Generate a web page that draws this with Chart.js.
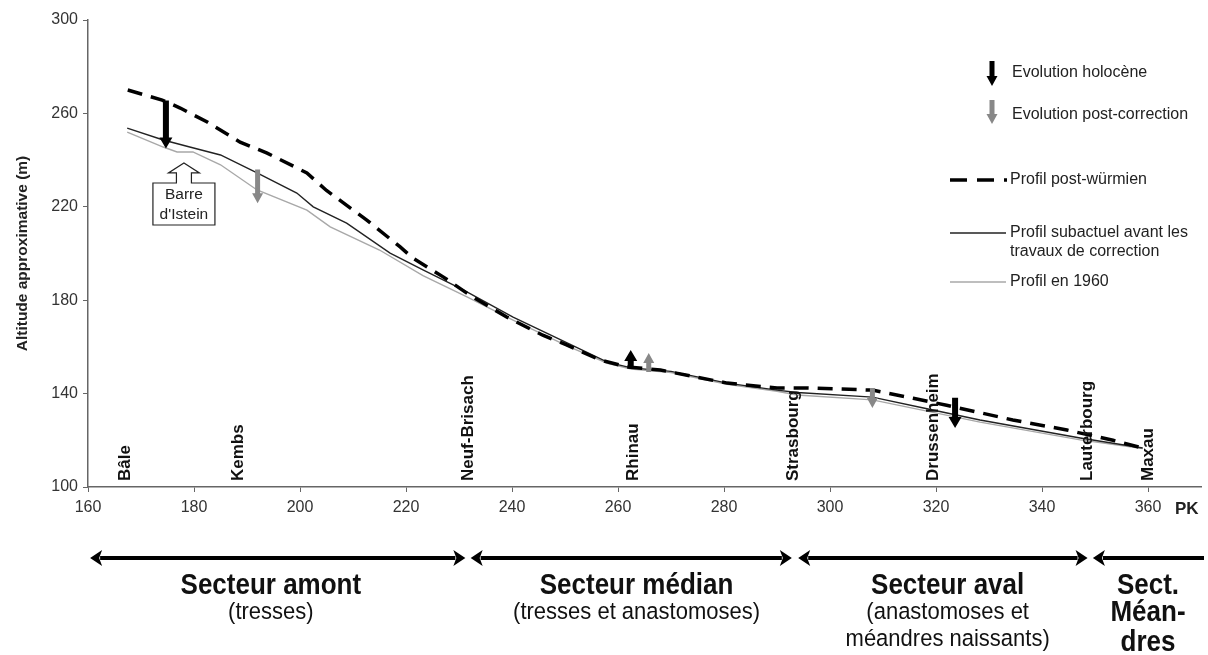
<!DOCTYPE html>
<html>
<head>
<meta charset="utf-8">
<script src="https://cdn.jsdelivr.net/npm/chart.js@4"></script>
<style>
html,body{margin:0;padding:0;background:#fff;}
#c{display:block;}
</style>
</head>
<body>
<canvas id="c" width="1208" height="655"></canvas>
<script>
// ---------- DATA ----------
const wurmKm  = [167.5,174,177.4,182.5,188.7,193.8,201.3,205,212.6,218.9,221.3,227,232,239,245.8,250.4,256.6,261.7,268,280.6,290,295.7,308,315.7,322,334.5,344.7,353.4,359];
const wurmAlt = [270,265.7,262.3,256.3,247.7,243,234.5,227,214.3,202.8,198,190,182.2,172.8,165,160.8,154.4,151.4,150.1,144.5,142.4,142.4,141.5,138,135,128.7,124.4,120,116.7];

const subKm   = [167.4,174.2,179.2,185,191.9,199.4,202.5,208.8,217,223.2,230.8,240.2,250.4,258,262.5,270,280.6,290,293.8,308,318.3,328.3,347.2,359];
const subAlt  = [253.7,248.6,245.6,242.2,234.5,225.9,220,213,200.2,193,184.4,172.8,161.7,153.5,151,149.5,144.5,141.5,140.5,138.5,133.5,128.7,121,116.7];

const p1960Km  = [167.4,174.2,176.8,179.8,185,191.9,201.3,205.7,215,223.2,231.5,240.2,250.4,258,262.5,270,280.6,290,293.8,308,318.3,328.3,347.2,359];
const p1960Alt = [252,245.6,243.5,243.5,238,227.2,218.6,211.4,201.5,190.5,181.4,171.5,160.4,153,150.5,149,144,141,139.4,137.3,132.5,127.8,120.2,116.5];

// Evolution arrows: km, altitude at tail, altitude at tip
const holoKm   = [174.7, 262.4, 323.6];
const holoFrom = [265.5, 151.0, 138.2];
const holoTo   = [245.0, 158.7, 125.3];
const postKm   = [192.0, 265.8, 308.0];
const postFrom = [236.0, 149.2, 142.4];
const postTo   = [221.5, 157.4, 133.8];

const cities   = ['Bâle','Kembs','Neuf-Brisach','Rhinau','Strasbourg','Drussenheim','Lauterbourg','Maxau'];
const cityKm   = [167, 188.3, 231.7, 262.8, 293, 319.4, 348.5, 360];

const yTicks = [100,140,180,220,260,300];
const xTicks = [160,180,200,220,240,260,280,300,320,340,360];

const sectionStart = [160.4, 232.2, 294.0, 349.6];
const sectionEnd   = [231.2, 292.8, 348.6, 371];
const sectionTitle = [['Secteur amont'],['Secteur médian'],['Secteur aval'],['Sect.','Méan-','dres']];
const sectionSub   = [['(tresses)'],['(tresses et anastomoses)'],['(anastomoses et','méandres naissants)'],[]];
const sectionLabelKm = [194.5, 263.5, 322.2, 360.0];

const barreKm = 178.1, barreTip = 238.8, barreBoxTop = 230.2, barreBoxBottom = 212.2;

// ---------- HELPERS ----------
const FONT = "'Liberation Sans', Arial, Helvetica, sans-serif";
function pts(xs, ys){ return xs.map((x,i)=>({x:x, y:ys[i]})); }

function arrow(ctx, x, y0, y1, color, shaftW, headW, headL){
  const dir = y1 > y0 ? 1 : -1;
  const yb = y1 - dir*headL;
  ctx.save();
  ctx.fillStyle = color;
  ctx.beginPath();
  ctx.moveTo(x - shaftW/2, y0);
  ctx.lineTo(x + shaftW/2, y0);
  ctx.lineTo(x + shaftW/2, yb);
  ctx.lineTo(x + headW/2, yb);
  ctx.lineTo(x, y1);
  ctx.lineTo(x - headW/2, yb);
  ctx.lineTo(x - shaftW/2, yb);
  ctx.closePath();
  ctx.fill();
  ctx.restore();
}

function hArrow(ctx, x0, x1, y, leftHead, rightHead){
  ctx.save();
  ctx.strokeStyle = '#000'; ctx.fillStyle = '#000';
  ctx.lineWidth = 4;
  const hl = 12, hw = 8;
  ctx.beginPath();
  ctx.moveTo(leftHead ? x0 + hl - 2 : x0, y);
  ctx.lineTo(rightHead ? x1 - hl + 2 : x1, y);
  ctx.stroke();
  if (leftHead){
    ctx.beginPath(); ctx.moveTo(x0, y); ctx.lineTo(x0+hl, y-hw); ctx.lineTo(x0+hl-3, y); ctx.lineTo(x0+hl, y+hw); ctx.closePath(); ctx.fill();
  }
  if (rightHead){
    ctx.beginPath(); ctx.moveTo(x1, y); ctx.lineTo(x1-hl, y-hw); ctx.lineTo(x1-hl+3, y); ctx.lineTo(x1-hl, y+hw); ctx.closePath(); ctx.fill();
  }
  ctx.restore();
}

function tallText(ctx, t, x, y, sy){
  ctx.save();
  ctx.translate(x, y);
  ctx.scale(1, sy);
  ctx.fillText(t, 0, 0);
  ctx.restore();
}

const overlay = {
  id: 'overlay',
  beforeDraw(chart){
    const ctx = chart.ctx;
    ctx.save(); ctx.fillStyle = '#fff'; ctx.fillRect(0,0,chart.width,chart.height); ctx.restore();
  },
  afterDatasetsDraw(chart){
    const ctx = chart.ctx;
    const xs = chart.scales.x, ys = chart.scales.y;
    const X = v => xs.getPixelForValue(v), Y = v => ys.getPixelForValue(v);

    // city labels
    ctx.save();
    ctx.fillStyle = '#111';
    ctx.font = "bold 17px " + FONT;
    ctx.textAlign = 'left'; ctx.textBaseline = 'middle';
    cities.forEach((c,i)=>{
      ctx.save();
      ctx.translate(X(cityKm[i]), Y(100) - 6);
      ctx.rotate(-Math.PI/2);
      ctx.fillText(c, 0, 0);
      ctx.restore();
    });
    ctx.restore();

    // evolution arrows
    holoKm.forEach((k,i)=> arrow(ctx, X(k), Y(holoFrom[i]), Y(holoTo[i]), '#000', 6, 13, 11));
    postKm.forEach((k,i)=> arrow(ctx, X(k), Y(postFrom[i]), Y(postTo[i]), '#888', 5, 11, 10));

    // Barre d'Istein callout
    const bx = X(barreKm), tip = Y(barreTip), bt = Y(barreBoxTop), bb = Y(barreBoxBottom);
    ctx.save();
    ctx.strokeStyle = '#222'; ctx.lineWidth = 1.2; ctx.fillStyle = '#fff';
    ctx.beginPath();
    ctx.moveTo(bx - 31, bt);
    ctx.lineTo(bx - 7.5, bt);
    ctx.lineTo(bx - 7.5, tip + 10);
    ctx.lineTo(bx - 15.5, tip + 10);
    ctx.lineTo(bx, tip);
    ctx.lineTo(bx + 15.5, tip + 10);
    ctx.lineTo(bx + 7.5, tip + 10);
    ctx.lineTo(bx + 7.5, bt);
    ctx.lineTo(bx + 31, bt);
    ctx.lineTo(bx + 31, bb);
    ctx.lineTo(bx - 31, bb);
    ctx.closePath();
    ctx.fill(); ctx.stroke();
    ctx.fillStyle = '#222';
    ctx.font = "15.5px " + FONT;
    ctx.textAlign = 'center'; ctx.textBaseline = 'middle';
    ctx.fillText('Barre', bx, bt + 12);
    ctx.fillText("d'Istein", bx, bt + 32);
    ctx.restore();

    // PK label
    ctx.save();
    ctx.fillStyle = '#222';
    ctx.font = "bold 17px " + FONT;
    ctx.textAlign = 'center'; ctx.textBaseline = 'middle';
    ctx.fillText('PK', X(367.3), Y(100) + 22);
    ctx.restore();

    // legend
    ctx.save();
    ctx.font = "16px " + FONT;
    ctx.fillStyle = '#222';
    ctx.textAlign = 'left'; ctx.textBaseline = 'middle';
    arrow(ctx, 992, 61, 86, '#000', 5, 11, 10);
    ctx.fillText('Evolution holocène', 1012, 73);
    arrow(ctx, 992, 100, 124, '#888', 5, 11, 10);
    ctx.fillText('Evolution post-correction', 1012, 115);
    ctx.strokeStyle = '#000'; ctx.lineWidth = 3.5; ctx.setLineDash([17,10]);
    ctx.beginPath(); ctx.moveTo(950,180); ctx.lineTo(1007,180); ctx.stroke();
    ctx.setLineDash([]);
    ctx.fillText('Profil post-würmien', 1010, 180);
    ctx.strokeStyle = '#222'; ctx.lineWidth = 1.5;
    ctx.beginPath(); ctx.moveTo(950,233); ctx.lineTo(1006,233); ctx.stroke();
    ctx.fillText('Profil subactuel avant les', 1010, 233);
    ctx.fillText('travaux de correction', 1010, 252);
    ctx.strokeStyle = '#a8a8a8'; ctx.lineWidth = 1.5;
    ctx.beginPath(); ctx.moveTo(950,282); ctx.lineTo(1006,282); ctx.stroke();
    ctx.fillText('Profil en 1960', 1010, 282);
    ctx.restore();

    // bottom sectors
    ctx.save();
    sectionStart.forEach((s,i)=>{
      const last = i === sectionStart.length - 1;
      hArrow(ctx, X(s), Math.min(X(sectionEnd[i]), chart.width - 4), 558, true, !last);
      const cx = X(sectionLabelKm[i]);
      ctx.fillStyle = '#111';
      ctx.textAlign = 'center'; ctx.textBaseline = 'middle';
      ctx.font = "bold 26px " + FONT;
      sectionTitle[i].forEach((t,j)=>{
        const yy = last ? [586,613,643][j] : 586;
        tallText(ctx, t, cx, yy, 1.1);
      });
      ctx.font = "22px " + FONT;
      sectionSub[i].forEach((t,j)=>{
        tallText(ctx, t, cx, 612 + j*27, 1.08);
      });
    });
    ctx.restore();
  }
};

new Chart(document.getElementById('c'), {
  type: 'line',
  data: {
    datasets: [
      { label: 'Profil post-würmien', data: pts(wurmKm, wurmAlt), borderColor: '#000', borderWidth: 3.5, borderDash: [15,9], pointRadius: 0, tension: 0, fill: false },
      { label: 'Profil subactuel avant les travaux de correction', data: pts(subKm, subAlt), borderColor: '#222', borderWidth: 1.4, pointRadius: 0, tension: 0, fill: false },
      { label: 'Profil en 1960', data: pts(p1960Km, p1960Alt), borderColor: '#a8a8a8', borderWidth: 1.4, pointRadius: 0, tension: 0, fill: false }
    ]
  },
  options: {
    responsive: false,
    animation: false,
    devicePixelRatio: 1,
    layout: { padding: { top: 20, right: 7, left: 0, bottom: 0 } },
    plugins: { legend: { display: false }, tooltip: { enabled: false } },
    scales: {
      x: {
        type: 'linear', min: 160, max: 370,
        afterFit(s){ s.height = 168; },
        afterBuildTicks(s){ s.ticks = xTicks.map(v=>({value:v})); },
        border: { color: '#666', width: 1.5 },
        grid: { drawOnChartArea: false, drawTicks: true, tickLength: 5, color: '#666' },
        ticks: { color: '#333', font: { family: FONT, size: 16 }, padding: 6, maxRotation: 0, autoSkip: false }
      },
      y: {
        type: 'linear', min: 100, max: 300,
        afterFit(s){ s.width = 88; },
        afterBuildTicks(s){ s.ticks = yTicks.map(v=>({value:v})); },
        border: { color: '#666', width: 1.5 },
        grid: { drawOnChartArea: false, drawTicks: true, tickLength: 5, color: '#666' },
        ticks: { color: '#333', font: { family: FONT, size: 16 }, padding: 5 },
        title: { display: true, text: 'Altitude approximative (m)', color: '#222', font: { family: FONT, size: 15.5, weight: 'bold' }, padding: { top: 13, bottom: 0 } }
      }
    }
  },
  plugins: [overlay]
});
</script>
</body>
</html>
